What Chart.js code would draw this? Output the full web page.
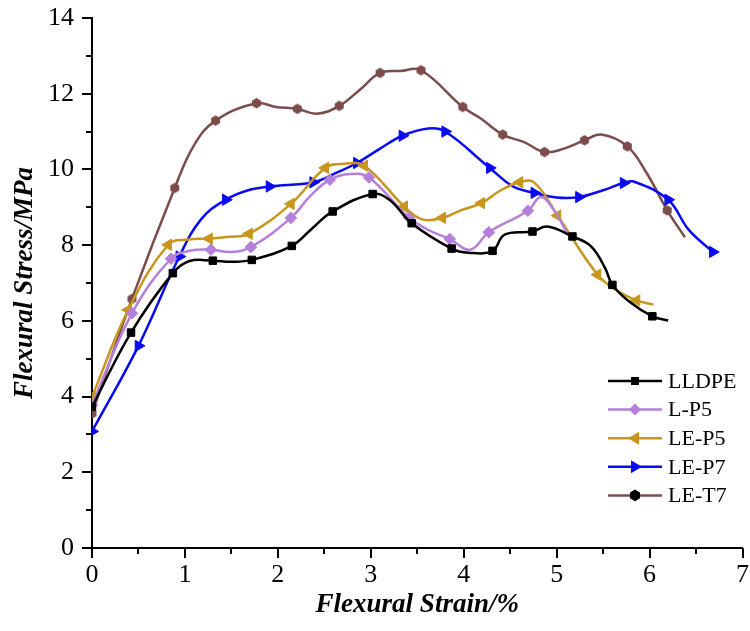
<!DOCTYPE html>
<html>
<head>
<meta charset="utf-8">
<script src="https://cdn.jsdelivr.net/npm/chart.js@4.4.1/dist/chart.umd.min.js"></script>
<style>
html,body{margin:0;padding:0;background:#fff;}
canvas{display:block;}
</style>
</head>
<body>
<canvas id="c" width="750" height="631"></canvas>
<script>
// ---- data ----
const seriesNames = ['LLDPE', 'L-P5', 'LE-P5', 'LE-P7', 'LE-T7'];
const xTitle = 'Flexural Strain/%';
const yTitle = 'Flexural Stress/MPa';
const xTickValues = [0, 1, 2, 3, 4, 5, 6, 7];
const yTickValues = [0, 2, 4, 6, 8, 10, 12, 14];

// marker points
const lldpeMarkX = [0, 0.42, 0.87, 1.30, 1.72, 2.15, 2.59, 3.02, 3.44, 3.87, 4.31, 4.74, 5.17, 5.60, 6.03];
const lldpeMarkY = [3.73, 5.69, 7.26, 7.59, 7.61, 7.98, 8.89, 9.35, 8.58, 7.91, 7.85, 8.36, 8.23, 6.95, 6.12];
// curve points between markers
const lldpeCurveX = [1.05, 1.50, 2.36, 3.20, 4.05, 4.44, 4.90, 5.37, 5.52, 5.78, 6.20];
const lldpeCurveY = [7.58, 7.56, 8.42, 9.20, 7.80, 8.28, 8.49, 7.97, 7.40, 6.51, 6.01];

const lp5MarkX = [0, 0.43, 0.85, 1.28, 1.71, 2.14, 2.56, 2.98, 3.41, 3.85, 4.27, 4.69];
const lp5MarkY = [3.78, 6.20, 7.64, 7.88, 7.95, 8.72, 9.73, 9.79, 8.73, 8.16, 8.34, 8.91];
const lp5CurveX = [1.05, 1.50, 2.35, 2.78, 3.62, 4.07, 4.83, 4.97, 5.12];
const lp5CurveY = [7.85, 7.82, 9.30, 9.88, 8.40, 7.88, 9.27, 8.93, 8.28];

const lep5MarkX = [0, 0.39, 0.82, 1.26, 1.69, 2.14, 2.51, 2.93, 3.36, 3.77, 4.19, 4.60, 5.01, 5.44, 5.86];
const lep5MarkY = [3.99, 6.29, 8.01, 8.17, 8.30, 9.09, 10.04, 10.10, 9.02, 8.72, 9.11, 9.66, 8.78, 7.22, 6.54];
const lep5CurveX = [1.04, 1.48, 2.72, 3.55, 3.95, 4.40, 4.76, 5.65, 6.04];
const lep5CurveY = [8.15, 8.22, 10.15, 8.68, 8.90, 9.45, 9.65, 6.80, 6.43];

const lep7MarkX = [0, 0.50, 0.94, 1.44, 1.91, 2.38, 2.85, 3.34, 3.80, 4.28, 4.76, 5.24, 5.72, 6.20, 6.68];
const lep7MarkY = [3.08, 5.34, 7.70, 9.20, 9.55, 9.66, 10.17, 10.89, 11.00, 10.04, 9.38, 9.27, 9.64, 9.20, 7.82];
const lep7CurveX = [1.18, 1.68, 2.62, 3.10, 3.62, 4.53, 5.00, 5.50, 5.83, 6.42];
const lep7CurveY = [8.70, 9.45, 9.90, 10.55, 11.08, 9.55, 9.26, 9.45, 9.68, 8.41];

const let7MarkX = [0, 0.43, 0.89, 1.33, 1.77, 2.21, 2.66, 3.10, 3.54, 3.99, 4.42, 4.87, 5.30, 5.76, 6.19];
const let7MarkY = [3.55, 6.58, 9.51, 11.29, 11.75, 11.60, 11.68, 12.55, 12.62, 11.65, 10.92, 10.46, 10.77, 10.61, 8.92];
const let7CurveX = [1.10, 1.98, 2.42, 2.88, 3.32, 4.18, 4.65, 5.08, 5.48, 5.97, 6.38];
const let7CurveY = [10.65, 11.65, 11.47, 12.10, 12.60, 11.35, 10.72, 10.55, 10.92, 9.90, 8.21];

// ---- styles ----
const colors = ['#000000', '#b57fdc', '#c8961c', '#0a0af0', '#7c4c4c'];
const FONT = "'Liberation Serif', 'Times New Roman', serif";

function hexCanvas(color, r) {
  const c = document.createElement('canvas');
  const s = Math.ceil(r * 2 + 2);
  c.width = s; c.height = s;
  const g = c.getContext('2d');
  g.fillStyle = color;
  g.beginPath();
  for (let i = 0; i < 6; i++) {
    const a = Math.PI / 6 + i * Math.PI / 3;
    const px = s / 2 + r * Math.cos(a), py = s / 2 + r * Math.sin(a);
    if (i === 0) g.moveTo(px, py); else g.lineTo(px, py);
  }
  g.closePath();
  g.fill();
  return c;
}
const hexBrown = hexCanvas(colors[4], 5.2);

const markerStyles = [
  { pointStyle: 'rect', rotation: 0, radius: 5.3 },
  { pointStyle: 'rectRot', rotation: 0, radius: 5.8 },
  { pointStyle: 'triangle', rotation: -90, radius: 6.5 },
  { pointStyle: 'triangle', rotation: 90, radius: 6.5 },
  { pointStyle: hexBrown, rotation: 0, radius: 5 }
];

function buildPoints(mx, my, cx, cy) {
  const pts = [];
  mx.forEach((x, i) => pts.push({ x: x, y: my[i], m: true }));
  cx.forEach((x, i) => pts.push({ x: x, y: cy[i], m: false }));
  pts.sort((a, b) => a.x - b.x);
  return pts;
}

const seriesData = [
  buildPoints(lldpeMarkX, lldpeMarkY, lldpeCurveX, lldpeCurveY),
  buildPoints(lp5MarkX, lp5MarkY, lp5CurveX, lp5CurveY),
  buildPoints(lep5MarkX, lep5MarkY, lep5CurveX, lep5CurveY),
  buildPoints(lep7MarkX, lep7MarkY, lep7CurveX, lep7CurveY),
  buildPoints(let7MarkX, let7MarkY, let7CurveX, let7CurveY)
];

const datasets = seriesNames.map((name, i) => ({
  label: name,
  data: seriesData[i],
  borderColor: colors[i],
  backgroundColor: colors[i],
  borderWidth: 2.5,
  tension: 0.4,
  fill: false,
  pointStyle: markerStyles[i].pointStyle,
  rotation: markerStyles[i].rotation,
  pointRadius: ctx => (ctx.raw && ctx.raw.m ? markerStyles[i].radius : 0),
  pointHoverRadius: 0,
  pointBackgroundColor: colors[i],
  pointBorderColor: colors[i],
  pointBorderWidth: 1
}));

// minor/major tick marks drawn from the scales
const tickPlugin = {
  id: 'ticks2',
  afterDraw(chart) {
    const ctx = chart.ctx;
    const xs = chart.scales.x, ys = chart.scales.y;
    const ca = chart.chartArea;
    ctx.save();
    ctx.strokeStyle = '#000';
    ctx.lineWidth = 2;
    for (let v = xs.min; v <= xs.max + 1e-9; v += 0.5) {
      const px = Math.round(xs.getPixelForValue(v));
      const len = Number.isInteger(v) ? 10 : 6;
      ctx.beginPath();
      ctx.moveTo(px, ca.bottom);
      ctx.lineTo(px, ca.bottom + len);
      ctx.stroke();
    }
    for (let v = ys.min; v <= ys.max + 1e-9; v += 1) {
      const py = Math.round(ys.getPixelForValue(v));
      const len = v % 2 === 0 ? 10 : 6;
      ctx.beginPath();
      ctx.moveTo(ca.left, py);
      ctx.lineTo(ca.left - len, py);
      ctx.stroke();
    }
    ctx.restore();
  }
};

function drawMarker(ctx, style, color, x, y) {
  ctx.save();
  ctx.fillStyle = color;
  ctx.translate(x, y);
  ctx.beginPath();
  if (style === 'rect') {
    ctx.rect(-4, -4, 8, 8);
  } else if (style === 'diamond') {
    ctx.moveTo(0, -6); ctx.lineTo(6, 0); ctx.lineTo(0, 6); ctx.lineTo(-6, 0); ctx.closePath();
  } else if (style === 'left') {
    ctx.moveTo(-7, 0); ctx.lineTo(4, -6.5); ctx.lineTo(4, 6.5); ctx.closePath();
  } else if (style === 'right') {
    ctx.moveTo(7, 0); ctx.lineTo(-4, -6.5); ctx.lineTo(-4, 6.5); ctx.closePath();
  } else {
    for (let i = 0; i < 6; i++) {
      const a = Math.PI / 6 + i * Math.PI / 3;
      const px = 5.8 * Math.cos(a), py = 5.8 * Math.sin(a);
      if (i === 0) ctx.moveTo(px, py); else ctx.lineTo(px, py);
    }
    ctx.closePath();
  }
  ctx.fill();
  ctx.restore();
}

const legendMarkers = ['rect', 'diamond', 'left', 'right', 'hex'];
const legendMarkerColors = [colors[0], colors[1], colors[2], colors[3], '#000000'];

const legendPlugin = {
  id: 'legend2',
  afterDraw(chart) {
    const ctx = chart.ctx;
    const x0 = 608, x1 = 662, tx = 668, y0 = 381, dy = 28.6;
    ctx.save();
    ctx.font = '22px ' + FONT;
    ctx.textBaseline = 'middle';
    ctx.textAlign = 'left';
    seriesNames.forEach((name, i) => {
      const y = y0 + i * dy;
      ctx.strokeStyle = colors[i];
      ctx.lineWidth = 2.5;
      ctx.beginPath();
      ctx.moveTo(x0, y);
      ctx.lineTo(x1, y);
      ctx.stroke();
      drawMarker(ctx, legendMarkers[i], legendMarkerColors[i], (x0 + x1) / 2, y);
      ctx.fillStyle = '#000';
      ctx.fillText(name, tx, y + 1);
    });
    ctx.restore();
  }
};

new Chart(document.getElementById('c'), {
  type: 'line',
  data: { datasets: datasets },
  options: {
    responsive: false,
    animation: false,
    events: [],
    layout: { padding: { top: 18, right: 2, left: 0, bottom: 0 } },
    plugins: { legend: { display: false }, tooltip: { enabled: false } },
    scales: {
      x: {
        type: 'linear',
        min: 0, max: 7,
        position: 'bottom',
        grid: { display: false, drawTicks: false },
        border: { display: true, color: '#000', width: 2 },
        afterBuildTicks: s => { s.ticks = xTickValues.map(v => ({ value: v })); },
        ticks: {
          color: '#000',
          font: { family: FONT, size: 26 },
          padding: 12,
          maxRotation: 0,
          autoSkip: false
        },
        title: {
          display: true,
          text: xTitle,
          color: '#000',
          font: { family: FONT, size: 27, weight: 'bold', style: 'italic' },
          padding: { top: 0, bottom: 10 }
        },
        afterFit: s => { s.height = 83; s.paddingLeft = 0; s.paddingRight = 0; }
      },
      y: {
        type: 'linear',
        min: 0, max: 14,
        grid: { display: false, drawTicks: false },
        border: { display: true, color: '#000', width: 2 },
        afterBuildTicks: s => { s.ticks = yTickValues.map(v => ({ value: v })); },
        ticks: {
          color: '#000',
          font: { family: FONT, size: 26 },
          padding: 18,
          autoSkip: false
        },
        title: {
          display: true,
          text: yTitle,
          color: '#000',
          font: { family: FONT, size: 27, weight: 'bold', style: 'italic' },
          padding: { top: 9, bottom: 0 }
        },
        afterFit: s => { s.width = 92; s.paddingTop = 0; s.paddingBottom = 0; }
      }
    }
  },
  plugins: [tickPlugin, legendPlugin]
});
</script>
</body>
</html>
